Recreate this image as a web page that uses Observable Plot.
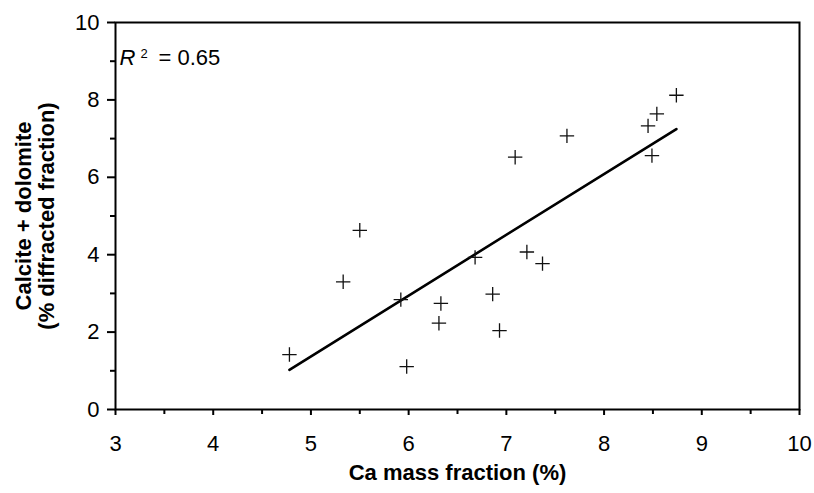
<!DOCTYPE html>
<html>
<head>
<meta charset="utf-8">
<script src="https://cdn.jsdelivr.net/npm/d3@7"></script>
<script src="https://cdn.jsdelivr.net/npm/@observablehq/plot@0.6"></script>
<style>
  html, body { margin: 0; padding: 0; background: #fff; }
</style>
</head>
<body>
<div id="chart"></div>
<script>
// Data
const caMass    = [4.78, 5.33, 5.50, 5.92, 5.98, 6.31, 6.33, 6.68, 6.86, 6.93, 7.09, 7.21, 7.37, 7.62, 8.45, 8.49, 8.54, 8.74];
const carbonate = [1.42, 3.30, 4.63, 2.84, 1.11, 2.23, 2.74, 3.93, 2.98, 2.04, 6.52, 4.07, 3.77, 7.07, 7.33, 6.56, 7.64, 8.12];

const xTicks = [3, 4, 5, 6, 7, 8, 9, 10];
const xMinorTicks = [3.5, 4.5, 5.5, 6.5, 7.5, 8.5, 9.5];
const yTicks = [0, 2, 4, 6, 8, 10];
const yMinorTicks = [1, 3, 5, 7, 9];

const xTitle = ["Ca mass fraction (%)"];
const yTitle = ["Calcite + dolomite\n(% diffracted fraction)"];
const r2Symbol = ["R"];
const r2Exponent = ["2"];
const r2Value = ["= 0.65"];

const points = caMass.map((x, i) => ({x, y: carbonate[i]}));

// thin stroke-only plus whose arm length equals the dot radius
const plusSymbol = {
  draw(context, size) {
    const r = Math.sqrt(size / Math.PI);
    context.moveTo(-r, 0); context.lineTo(r, 0);
    context.moveTo(0, -r); context.lineTo(0, r);
  }
};

const font = "'Liberation Sans', Arial, Helvetica, sans-serif";

const chart = Plot.plot({
  width: 814,
  height: 493,
  marginLeft: 115,
  marginRight: 15,
  marginTop: 22,
  marginBottom: 84,
  style: {fontFamily: font, fontSize: "22px", color: "#000", background: "#fff"},
  x: {domain: [3, 10], axis: null},
  y: {domain: [0, 10], axis: null},
  marks: [
    Plot.axisX({ticks: xMinorTicks, tickSize: 5, strokeWidth: 2, tickFormat: () => "", label: null}),
    Plot.axisX({ticks: xTicks, tickSize: 6, tickPadding: 20, strokeWidth: 2, fontSize: 22, tickFormat: d => String(d), label: null}),
    Plot.axisY({ticks: yMinorTicks, tickSize: 5, strokeWidth: 2, tickFormat: () => "", label: null}),
    Plot.axisY({ticks: yTicks, tickSize: 8, tickPadding: 8, strokeWidth: 2, fontSize: 22, tickFormat: d => String(d), label: null}),
    Plot.frame({stroke: "#000", strokeWidth: 2}),
    Plot.linearRegressionY(points, {x: "x", y: "y", ci: 0, stroke: "#000", strokeWidth: 2.6}),
    Plot.dot(points, {x: "x", y: "y", symbol: plusSymbol, r: 7.2, stroke: "#111", strokeWidth: 1.3, fill: "none"}),
    Plot.text(r2Symbol, {text: d => d, frameAnchor: "top-left", textAnchor: "start", lineAnchor: "bottom", dx: 4, dy: 42, fontSize: 22, fontStyle: "italic"}),
    Plot.text(r2Exponent, {text: d => d, frameAnchor: "top-left", textAnchor: "start", lineAnchor: "bottom", dx: 25, dy: 35, fontSize: 13}),
    Plot.text(r2Value, {text: d => d, frameAnchor: "top-left", textAnchor: "start", lineAnchor: "bottom", dx: 43, dy: 42, fontSize: 22}),
    Plot.text(xTitle, {text: d => d, frameAnchor: "bottom", textAnchor: "middle", lineAnchor: "bottom", dy: 70, fontSize: 22, fontWeight: "bold"}),
    Plot.text(yTitle, {text: d => d, frameAnchor: "left", textAnchor: "middle", lineAnchor: "middle", rotate: -90, dx: -80, lineHeight: 1.05, fontSize: 22, fontWeight: "bold"})
  ]
});

document.getElementById("chart").appendChild(chart);
</script>
</body>
</html>
